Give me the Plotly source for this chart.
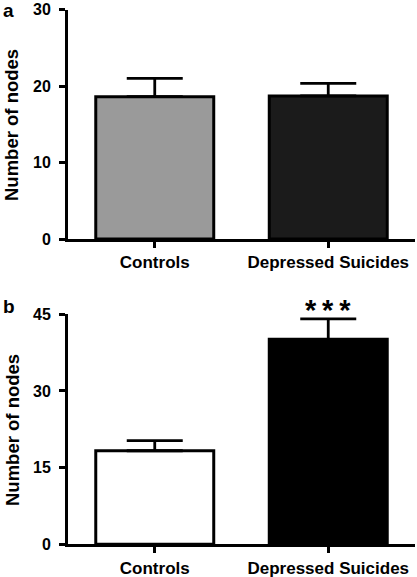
import plotly.graph_objects as go

categories = ["Controls", "Depressed Suicides"]
a_values = [18.6, 18.7]
a_errors = [2.4, 1.65]
a_colors = ["#9a9a9a", "#1b1b1b"]
b_values = [18.3, 40.1]
b_errors = [2.0, 4.0]
b_colors = ["#ffffff", "#000000"]
a_ticks = [0, 10, 20, 30]
b_ticks = [0, 15, 30, 45]
y_title = "Number of nodes"
sig_label = "*\u2009*\u2009*"

W, H = 417, 577
FONT = "Liberation Sans, Arial, Helvetica, sans-serif"

def px_x(p):
    return p / W

def px_y(p):
    return 1 - p / H

fig = go.Figure()

fig.add_trace(go.Bar(
    x=categories, y=a_values, width=0.68,
    marker=dict(color=a_colors, line=dict(color="black", width=3)),
    error_y=dict(type="data", array=a_errors, arrayminus=[0, 0], symmetric=False,
                 color="black", thickness=2.8, width=28),
    xaxis="x", yaxis="y", showlegend=False,
))
fig.add_trace(go.Bar(
    x=categories, y=b_values, width=0.68,
    marker=dict(color=b_colors, line=dict(color="black", width=3)),
    error_y=dict(type="data", array=b_errors, arrayminus=[0, 0], symmetric=False,
                 color="black", thickness=2.8, width=28),
    xaxis="x2", yaxis="y2", showlegend=False,
))

xdom = [px_x(68), px_x(415)]
axis_common = dict(showline=True, linecolor="black", linewidth=3, ticks="outside",
                   tickcolor="black", tickwidth=3, showgrid=False, zeroline=False,
                   automargin=False,
                   tickfont=dict(family=FONT, size=17, color="black", weight="bold"))
ytickfont = dict(family=FONT, size=16, color="black", weight="bold")

fig.update_layout(
    width=W, height=H, margin=dict(l=0, r=0, t=0, b=0),
    paper_bgcolor="white", plot_bgcolor="white",
    xaxis=dict(domain=xdom, anchor="y", range=[-0.5, 1.5], ticklen=6, **axis_common),
    yaxis=dict(domain=[px_y(239), px_y(9.5)], anchor="x", range=[0, 30],
               tickvals=a_ticks, ticklen=6, ticklabelstandoff=5,
               **{**axis_common, "tickfont": ytickfont}),
    xaxis2=dict(domain=xdom, anchor="y2", range=[-0.5, 1.5], ticklen=6, **axis_common),
    yaxis2=dict(domain=[px_y(544.3), px_y(314.3)], anchor="x2", range=[0, 45],
                tickvals=b_ticks, ticklen=6, ticklabelstandoff=5,
                **{**axis_common, "tickfont": ytickfont}),
)

annotations = [
    dict(text="a", x=px_x(1), y=px_y(-2), xanchor="left", yanchor="top"),
    dict(text="b", x=px_x(1), y=px_y(294), xanchor="left", yanchor="top"),
    dict(text=y_title, x=px_x(12), y=px_y(125), textangle=-90, xanchor="center", yanchor="middle"),
    dict(text=y_title, x=px_x(12), y=px_y(430), textangle=-90, xanchor="center", yanchor="middle"),
]
for ann in annotations:
    size = 18.5 if ann["text"] == y_title else 19
    fig.add_annotation(xref="paper", yref="paper", showarrow=False,
                       font=dict(family=FONT, size=size, color="black", weight="bold"), **ann)

fig.add_annotation(x=categories[1], y=px_y(310), xref="x2", yref="paper",
                   text=sig_label, showarrow=False, yanchor="middle",
                   font=dict(family=FONT, size=29, color="black", weight="bold"))

fig.write_html("out.html", config={"displayModeBar": False},
               post_script="document.body.style.margin='0';document.body.style.overflow='hidden';")
